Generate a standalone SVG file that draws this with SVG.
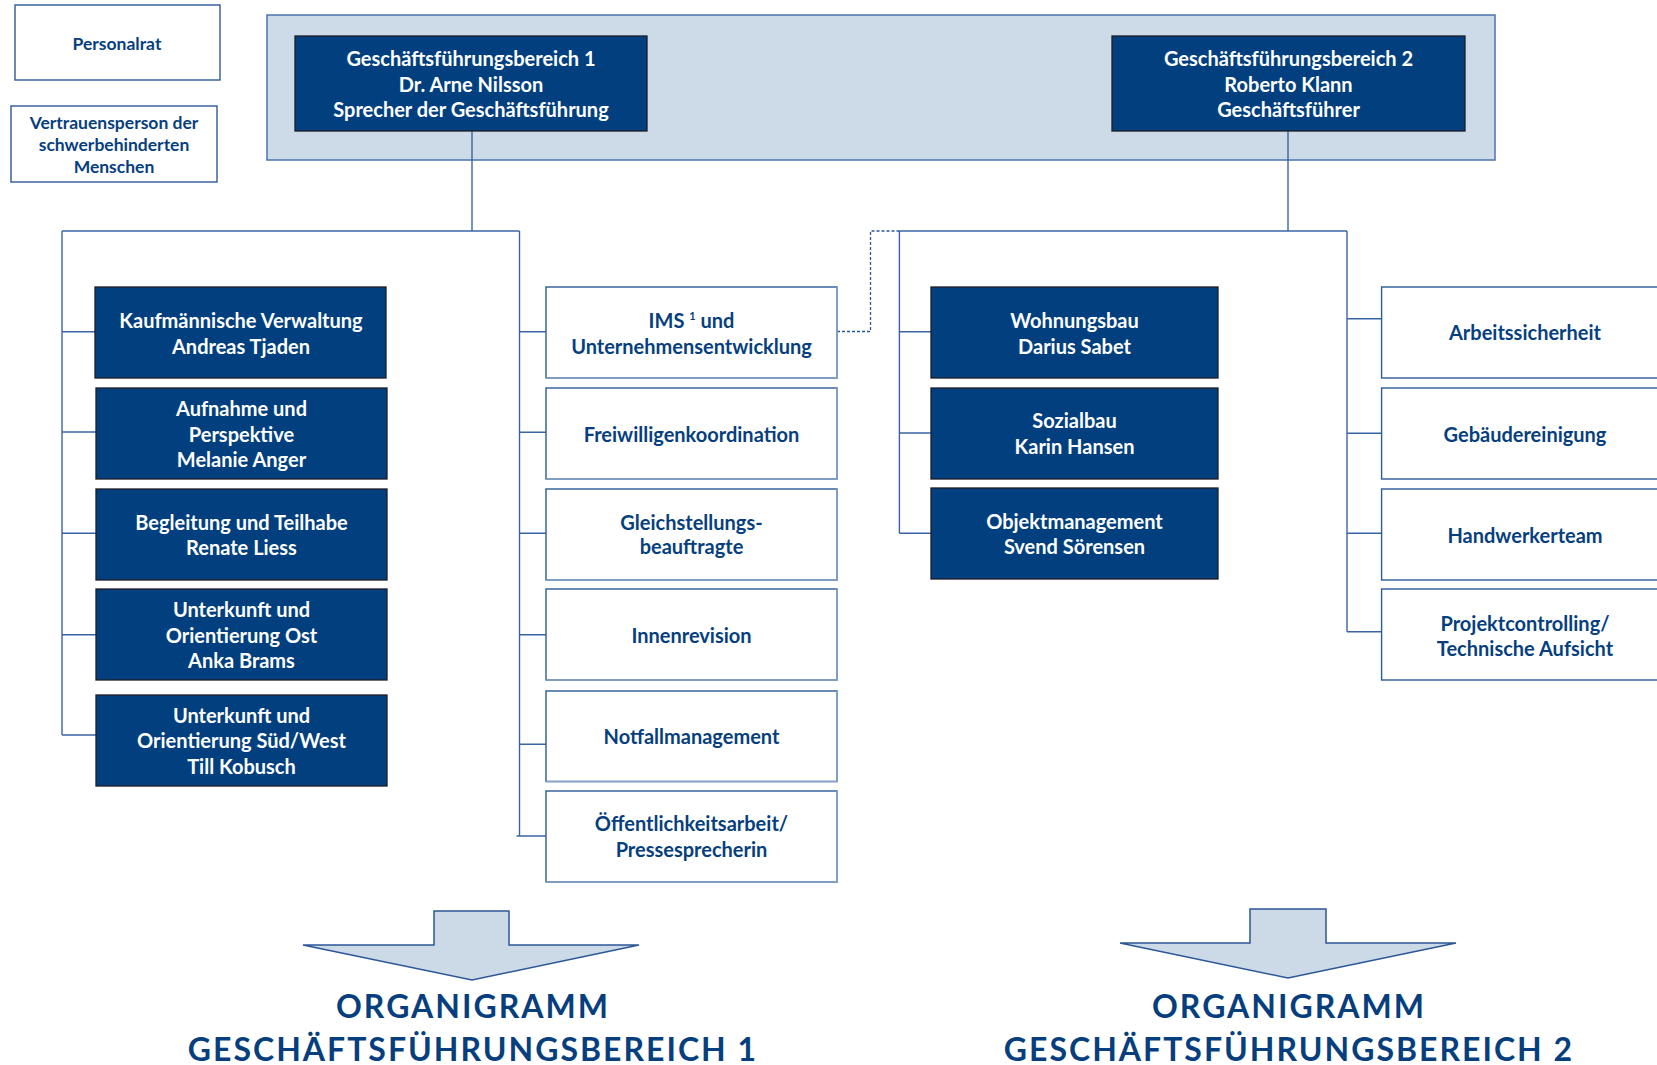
<svg xmlns="http://www.w3.org/2000/svg" width="1657" height="1065" viewBox="0 0 1657 1065">
<style>
  text { font-family: Lato, "Open Sans", "Liberation Sans", sans-serif; font-weight: 700; text-anchor: middle; }
  .dark rect { fill: #013f7f; stroke: #1c1c24; stroke-width: 1.3; }
  .dark text { fill: #ffffff; font-size: 20px; }
  .white rect { fill: #ffffff; stroke: #2c5a98; stroke-width: 1.4; }
  .white polyline { fill: none; stroke: #86a2c8; stroke-width: 1.6; }
  .white text { fill: #073f7e; font-size: 20px; }
  .small text { font-size: 17.5px; }
  .conn path { fill: none; stroke: #3864a4; stroke-width: 1.4; }
  .conn path.dash { stroke: #2b5797; stroke-width: 1.3; stroke-dasharray: 3 2; }
  .arrow { fill: #ccdae7; stroke: #2b5797; stroke-width: 1.5; }
  .title { fill: #073f7e; font-size: 32px; letter-spacing: 2px; }
</style>

<!-- header region -->
<g id="header">
  <rect x="267" y="15" width="1228" height="145" fill="#cddae7" stroke="#4a74ad" stroke-width="1.5"/>
</g>

<!-- connectors -->
<g id="connectors" class="conn">
  <path d="M472,131 V231"/>
  <path d="M62,231 H519.5"/>
  <path d="M62,231 V735"/>
  <path d="M62,331.7 H95 M62,432 H96 M62,533.3 H96 M62,634.7 H96 M62,735 H96"/>
  <path d="M519.5,231 V836"/>
  <path d="M519.5,331.7 H546 M519.5,432.3 H546 M519.5,533.3 H546 M519.5,634.7 H546 M519.5,744.3 H546 M516.5,836 H546"/>
  <path d="M1288,131 V231"/>
  <path d="M899.4,231 H1347"/>
  <path d="M899.4,231 V533.3"/>
  <path d="M899.4,331.7 H931 M899.4,433 H931 M899.4,533.3 H931"/>
  <path d="M1347,231 V631.7"/>
  <path d="M1347,318.7 H1381.6 M1347,433.3 H1381.6 M1347,533.3 H1381.6 M1347,631.7 H1381.6"/>
  <path class="dash" d="M837,331.5 H870.5 V231 H899.4"/>
</g>

<!-- top-left side boxes -->
<g id="personalrat" class="white small">
  <rect x="15" y="5" width="205" height="75"/>
  <text x="117" y="50">Personalrat</text>
</g>
<g id="vertrauensperson" class="white small">
  <rect x="11" y="106" width="206" height="76"/>
  <text x="114" y="129">Vertrauensperson der</text>
  <text x="114" y="151">schwerbehinderten</text>
  <text x="114" y="173">Menschen</text>
</g>

<!-- management -->
<g id="gf1" class="dark">
  <rect x="295" y="36" width="352" height="95"/>
  <text x="471" y="66">Geschäftsführungsbereich 1</text>
  <text x="471" y="91.5">Dr. Arne Nilsson</text>
  <text x="471" y="116.5">Sprecher der Geschäftsführung</text>
</g>
<g id="gf2" class="dark">
  <rect x="1112" y="36" width="353" height="95"/>
  <text x="1288.5" y="66">Geschäftsführungsbereich 2</text>
  <text x="1288.5" y="91.5">Roberto Klann</text>
  <text x="1288.5" y="116.5">Geschäftsführer</text>
</g>

<!-- left column -->
<g id="kaufmaennische-verwaltung" class="dark">
  <rect x="95" y="287" width="291" height="91"/>
  <text x="241" y="328">Kaufmännische Verwaltung</text>
  <text x="241" y="353.7">Andreas Tjaden</text>
</g>
<g id="aufnahme-perspektive" class="dark">
  <rect x="96" y="388" width="291" height="91"/>
  <text x="241.5" y="416">Aufnahme und</text>
  <text x="241.5" y="441.7">Perspektive</text>
  <text x="241.5" y="466.7">Melanie Anger</text>
</g>
<g id="begleitung-teilhabe" class="dark">
  <rect x="96" y="489" width="291" height="91"/>
  <text x="241.5" y="530.3">Begleitung und Teilhabe</text>
  <text x="241.5" y="555">Renate Liess</text>
</g>
<g id="unterkunft-ost" class="dark">
  <rect x="96" y="589" width="291" height="91"/>
  <text x="241.5" y="617.3">Unterkunft und</text>
  <text x="241.5" y="642.7">Orientierung Ost</text>
  <text x="241.5" y="667.7">Anka Brams</text>
</g>
<g id="unterkunft-sued-west" class="dark">
  <rect x="96" y="695" width="291" height="91"/>
  <text x="241.5" y="722.7">Unterkunft und</text>
  <text x="241.5" y="748.3">Orientierung Süd/West</text>
  <text x="241.5" y="773.7">Till Kobusch</text>
</g>

<!-- middle column -->
<g id="ims" class="white">
  <rect x="546" y="287" width="291" height="91"/>
  <polyline points="837,287 837,378 546,378"/>
  <text x="691.5" y="327.7">IMS <tspan font-size="11" dy="-8">1</tspan><tspan dy="8"> und</tspan></text>
  <text x="691.5" y="353.7">Unternehmensentwicklung</text>
</g>
<g id="freiwilligenkoordination" class="white">
  <rect x="546" y="388" width="291" height="91"/>
  <polyline points="837,388 837,479 546,479"/>
  <text x="691.5" y="441.7">Freiwilligenkoordination</text>
</g>
<g id="gleichstellung" class="white">
  <rect x="546" y="489" width="291" height="91"/>
  <polyline points="837,489 837,580 546,580"/>
  <text x="691.5" y="530.3">Gleichstellungs-</text>
  <text x="691.5" y="554.3">beauftragte</text>
</g>
<g id="innenrevision" class="white">
  <rect x="546" y="589" width="291" height="91"/>
  <polyline points="837,589 837,680 546,680"/>
  <text x="691.5" y="642.7">Innenrevision</text>
</g>
<g id="notfallmanagement" class="white">
  <rect x="546" y="691" width="291" height="90.5"/>
  <polyline points="837,691 837,781.5 546,781.5"/>
  <text x="691.5" y="743.7">Notfallmanagement</text>
</g>
<g id="oeffentlichkeitsarbeit" class="white">
  <rect x="546" y="791" width="291" height="91"/>
  <polyline points="837,791 837,882 546,882"/>
  <text x="691.5" y="831">Öffentlichkeitsarbeit/</text>
  <text x="691.5" y="857">Pressesprecherin</text>
</g>

<!-- right dark column -->
<g id="wohnungsbau" class="dark">
  <rect x="931" y="287" width="287" height="91"/>
  <text x="1074.5" y="327.7">Wohnungsbau</text>
  <text x="1074.5" y="353.7">Darius Sabet</text>
</g>
<g id="sozialbau" class="dark">
  <rect x="931" y="388" width="287" height="91"/>
  <text x="1074.5" y="428.3">Sozialbau</text>
  <text x="1074.5" y="453.7">Karin Hansen</text>
</g>
<g id="objektmanagement" class="dark">
  <rect x="931" y="488" width="287" height="91"/>
  <text x="1074.5" y="529.3">Objektmanagement</text>
  <text x="1074.5" y="554.3">Svend Sörensen</text>
</g>

<!-- right white column -->
<g id="arbeitssicherheit" class="white">
  <rect x="1381.6" y="287" width="291" height="91"/>
  <text x="1525" y="340.3">Arbeitssicherheit</text>
</g>
<g id="gebaeudereinigung" class="white">
  <rect x="1381.6" y="388" width="291" height="91"/>
  <text x="1525" y="441.7">Gebäudereinigung</text>
</g>
<g id="handwerkerteam" class="white">
  <rect x="1381.6" y="489" width="291" height="91"/>
  <text x="1525" y="542.7">Handwerkerteam</text>
</g>
<g id="projektcontrolling" class="white">
  <rect x="1381.6" y="589" width="291" height="91"/>
  <text x="1525" y="631">Projektcontrolling/</text>
  <text x="1525" y="656">Technische Aufsicht</text>
</g>

<!-- bottom arrows and titles -->
<g id="arrow1">
  <polygon class="arrow" points="434,911 509,911 509,945 639,945 472,980 303,945 434,945"/>
  <text class="title" x="473" y="1018">ORGANIGRAMM</text>
  <text class="title" x="473" y="1061">GESCHÄFTSFÜHRUNGSBEREICH 1</text>
</g>
<g id="arrow2">
  <polygon class="arrow" points="1250,909 1326,909 1326,943 1456,943 1288,978 1120,943 1250,943"/>
  <text class="title" x="1289" y="1018">ORGANIGRAMM</text>
  <text class="title" x="1289" y="1061">GESCHÄFTSFÜHRUNGSBEREICH 2</text>
</g>
</svg>
